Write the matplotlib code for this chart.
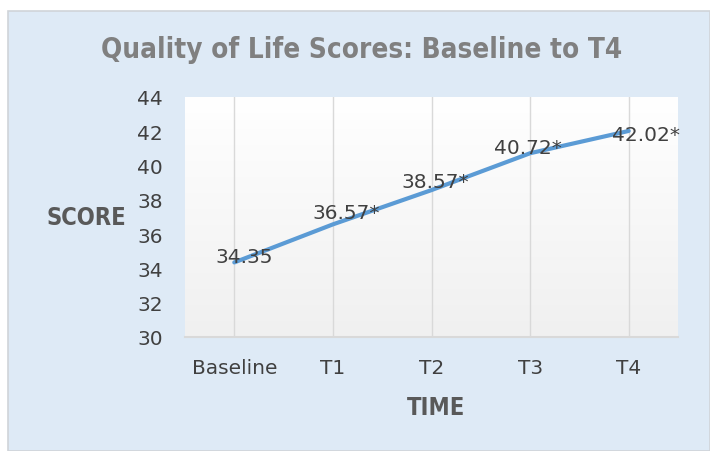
import numpy as np
import matplotlib.pyplot as plt
from matplotlib.patches import Rectangle
from matplotlib.colors import LinearSegmentedColormap

times = ['Baseline', 'T1', 'T2', 'T3', 'T4']
scores = [34.35, 36.57, 38.57, 40.72, 42.02]
labels = ['34.35', '36.57*', '38.57*', '40.72*', '42.02*']

plt.rcParams['font.family'] = ['DejaVu Sans']

fig = plt.figure(figsize=(7.1, 4.52), dpi=100, facecolor='white')
# light blue chart area with thin border
fig.patches.append(Rectangle((8 / 710, 0), 702 / 710, 440 / 452, transform=fig.transFigure,
                             facecolor='#DEEAF6', edgecolor='#D0D4D9', linewidth=1.2,
                             zorder=-10))

ax = fig.add_axes([185 / 710, (452 - 338) / 452, 493 / 710, 240 / 452])
ax.set_zorder(1)
x = np.arange(len(times))
ax.set_xlim(-0.5, len(times) - 0.5)
ax.set_ylim(30, 44)

# white-to-grey gradient behind the plot
grad = np.linspace(1, 0, 256).reshape(-1, 1)
ax.imshow(grad, extent=[0, 1, 0, 1], transform=ax.transAxes, aspect='auto',
          cmap=LinearSegmentedColormap.from_list('g', ['#F0F0F0', '#FFFFFF']), zorder=0)

for xi in x:
    ax.axvline(xi, color='#D9D9D9', linewidth=1, zorder=1)

ax.plot(x, scores, color='#5B9BD5', linewidth=3, solid_capstyle='round', zorder=3)

# label offsets (points) as Excel placed them
offsets = [(6.8, 0.6), (9.4, 4.6), (2.5, 2.4), (-1.4, -0.1), (12.2, -6.2)]
for xi, yi, lab, off in zip(x, scores, labels, offsets):
    ax.annotate(lab, (xi, yi), xytext=off, textcoords='offset points',
                ha='center', va='baseline', fontsize=14.5, color='#404040', zorder=4)

ax.set_xticks(x)
ax.set_xticklabels(times)
ax.set_yticks(range(30, 45, 2))
ax.tick_params(length=0, labelsize=14.5, labelcolor='#404040')
ax.tick_params(axis='y', pad=16)
ax.tick_params(axis='x', pad=15)
for s in ['top', 'right', 'left']:
    ax.spines[s].set_visible(False)
ax.spines['bottom'].set_color('#D9D9D9')
ax.spines['bottom'].set_linewidth(1.5)

ax.set_xlabel('TIME', fontsize=17, fontweight='bold', color='#595959',
              fontstretch='condensed', va='center')
ax.xaxis.set_label_coords(0.51, -0.29)
ax.set_ylabel('SCORE', fontsize=17, fontweight='bold', color='#595959', rotation=0,
              fontstretch='condensed', ha='center', va='center')
ax.yaxis.set_label_coords(-0.2, 0.5)

fig.text(362 / 710, 1 - 50 / 452, 'Quality of Life Scores: Baseline to T4', ha='center',
         va='center', fontsize=20, fontweight='bold', color='#808080',
         fontstretch='condensed')

fig.savefig('out.png', dpi=100, facecolor='white')
